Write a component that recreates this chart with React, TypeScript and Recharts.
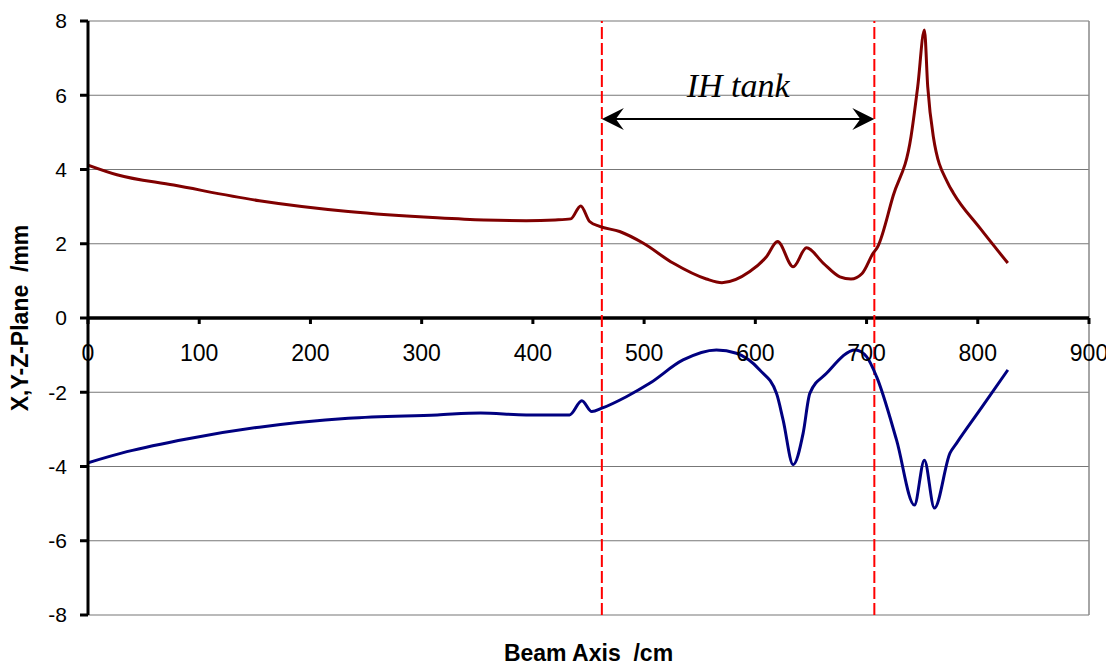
import React from "react";
import {
  LineChart,
  Line,
  XAxis,
  YAxis,
  CartesianGrid,
  ReferenceLine,
  Label,
} from "recharts";

// Beam envelope along the beam axis (cm) — upper (x-plane) and lower (y-plane) traces, mm
const redX = [0, 26, 77, 154, 234, 314, 356, 394, 420, 434, 443, 451, 460, 478, 499, 526, 556, 570, 595, 610, 620, 634, 646, 661, 676, 686, 696, 706, 710, 724, 740, 746, 752, 755, 760, 773, 778, 802, 827];
const redY = [4.12, 3.86, 3.58, 3.16, 2.87, 2.7, 2.64, 2.62, 2.64, 2.67, 3.02, 2.6, 2.47, 2.33, 2.02, 1.48, 1.05, 0.95, 1.25, 1.65, 2.06, 1.38, 1.89, 1.48, 1.11, 1.05, 1.2, 1.75, 1.92, 3.3, 4.89, 6.23, 7.76, 6.23, 4.89, 3.64, 3.37, 2.42, 1.48];

const blueX = [0, 35, 90, 154, 234, 314, 353, 394, 433, 444, 453, 462, 484, 505, 535, 565, 583, 604, 619, 625, 634, 643, 649, 664, 690, 700, 709, 727, 743, 752, 761, 775, 781, 804, 827];
const blueY = [-3.9, -3.6, -3.25, -2.94, -2.7, -2.61, -2.56, -2.61, -2.61, -2.23, -2.52, -2.43, -2.12, -1.76, -1.13, -0.86, -0.95, -1.4, -2.03, -2.75, -3.95, -3.1, -2.03, -1.49, -0.86, -1.04, -1.58, -3.29, -5.04, -3.83, -5.12, -3.64, -3.37, -2.39, -1.4];

// Tank boundaries along the beam axis (cm) and arrow height (mm)
const tankStart = 462;
const tankEnd = 707;
const arrowLevel = 5.36;
const tankLabel = "IH tank";

const xTicks = [0, 100, 200, 300, 400, 500, 600, 700, 800, 900];
const yTicks = [-8, -6, -4, -2, 0, 2, 4, 6, 8];

const redData = redX.map((x, i) => ({ x, v: redY[i] }));
const blueData = blueX.map((x, i) => ({ x, v: blueY[i] }));

const W = 1100;
const H = 660;
const M = { top: 13, right: 19, bottom: 0, left: 0 };
const X_AXIS_H = 53;
const Y_AXIS_W = 80;
const PLOT_TOP = M.top;
const PLOT_H = H - M.top - M.bottom - X_AXIS_H;
const ZERO_Y = PLOT_TOP + PLOT_H / 2;

const SANS = "'Liberation Sans', Arial, sans-serif";
const SERIF = "'Liberation Serif', 'Times New Roman', serif";

function XTick(props: any) {
  const { x, payload } = props;
  return (
    <g>
      <line x1={x} x2={x} y1={ZERO_Y} y2={ZERO_Y + 6} stroke="#000" strokeWidth={3} />
      <text x={x} y={ZERO_Y + 43} textAnchor="middle" fontSize={23} fontFamily={SANS} fill="#000">
        {payload.value}
      </text>
    </g>
  );
}

function TankArrow(props: any) {
  const { x1, x2, y1 } = props;
  const len = 22;
  const half = 11;
  const notch = 8;
  const left = `${x1},${y1} ${x1 + len},${y1 - half} ${x1 + len - notch},${y1} ${x1 + len},${y1 + half}`;
  const right = `${x2},${y1} ${x2 - len},${y1 - half} ${x2 - len + notch},${y1} ${x2 - len},${y1 + half}`;
  return (
    <g>
      <line x1={x1 + 6} x2={x2 - 6} y1={y1} y2={y1} stroke="#000" strokeWidth={2.2} />
      <polygon points={left} fill="#000" />
      <polygon points={right} fill="#000" />
      <text
        x={(x1 + x2) / 2}
        y={y1 - 22}
        textAnchor="middle"
        fontSize={34}
        fontStyle="italic"
        fontFamily={SERIF}
        fill="#000"
      >
        {tankLabel}
      </text>
    </g>
  );
}

function YTitle() {
  const cx = 12;
  const cy = PLOT_TOP + PLOT_H / 2;
  return (
    <text
      x={cx}
      y={cy}
      transform={`rotate(-90 ${cx} ${cy})`}
      textAnchor="middle"
      dominantBaseline="central"
      fontSize={23}
      fontWeight="bold"
      fontFamily={SANS}
      fill="#000"
    >
      X,Y-Z-Plane&#160;&#160;/mm
    </text>
  );
}

function XTitle(props: any) {
  const { viewBox } = props;
  const cx = viewBox.x + viewBox.width / 2;
  return (
    <text
      x={cx}
      y={H - 7}
      textAnchor="middle"
      fontSize={23}
      fontWeight="bold"
      fontFamily={SANS}
      fill="#000"
    >
      Beam Axis&#160;&#160;/cm
    </text>
  );
}

export default function App() {
  return (
    <LineChart width={W} height={H} margin={M}>
      <CartesianGrid horizontal vertical={false} stroke="#777" strokeWidth={1.2} />
      <XAxis
        dataKey="x"
        type="number"
        domain={[0, 900]}
        ticks={xTicks}
        height={X_AXIS_H}
        axisLine={false}
        tickLine={false}
        tick={<XTick />}
        allowDataOverflow
      >
        <Label content={<XTitle />} />
      </XAxis>
      <YAxis
        type="number"
        domain={[-8, 8]}
        ticks={yTicks}
        width={Y_AXIS_W}
        axisLine={{ stroke: "#000", strokeWidth: 3 }}
        tickLine={{ stroke: "#000", strokeWidth: 3 }}
        tickSize={8}
        tickMargin={13}
        tick={{ fontSize: 21, fontFamily: SANS, fill: "#000" }}
        interval={0}
      >
        <Label content={<YTitle />} />
      </YAxis>
      <ReferenceLine x={900} stroke="#888" strokeWidth={1.5} />
      <ReferenceLine y={0} stroke="#000" strokeWidth={3.5} />
      <ReferenceLine x={tankStart} stroke="#ff0000" strokeWidth={2} strokeDasharray="12 4" />
      <ReferenceLine x={tankEnd} stroke="#ff0000" strokeWidth={2} strokeDasharray="12 4" />
      <ReferenceLine
        segment={[
          { x: tankStart, y: arrowLevel },
          { x: tankEnd, y: arrowLevel },
        ]}
        shape={(p: any) => <TankArrow {...p} />}
      />
      <Line
        data={redData}
        dataKey="v"
        type="monotone"
        stroke="#800000"
        strokeWidth={3}
        dot={false}
        isAnimationActive={false}
      />
      <Line
        data={blueData}
        dataKey="v"
        type="monotone"
        stroke="#000080"
        strokeWidth={3}
        dot={false}
        isAnimationActive={false}
      />
    </LineChart>
  );
}
